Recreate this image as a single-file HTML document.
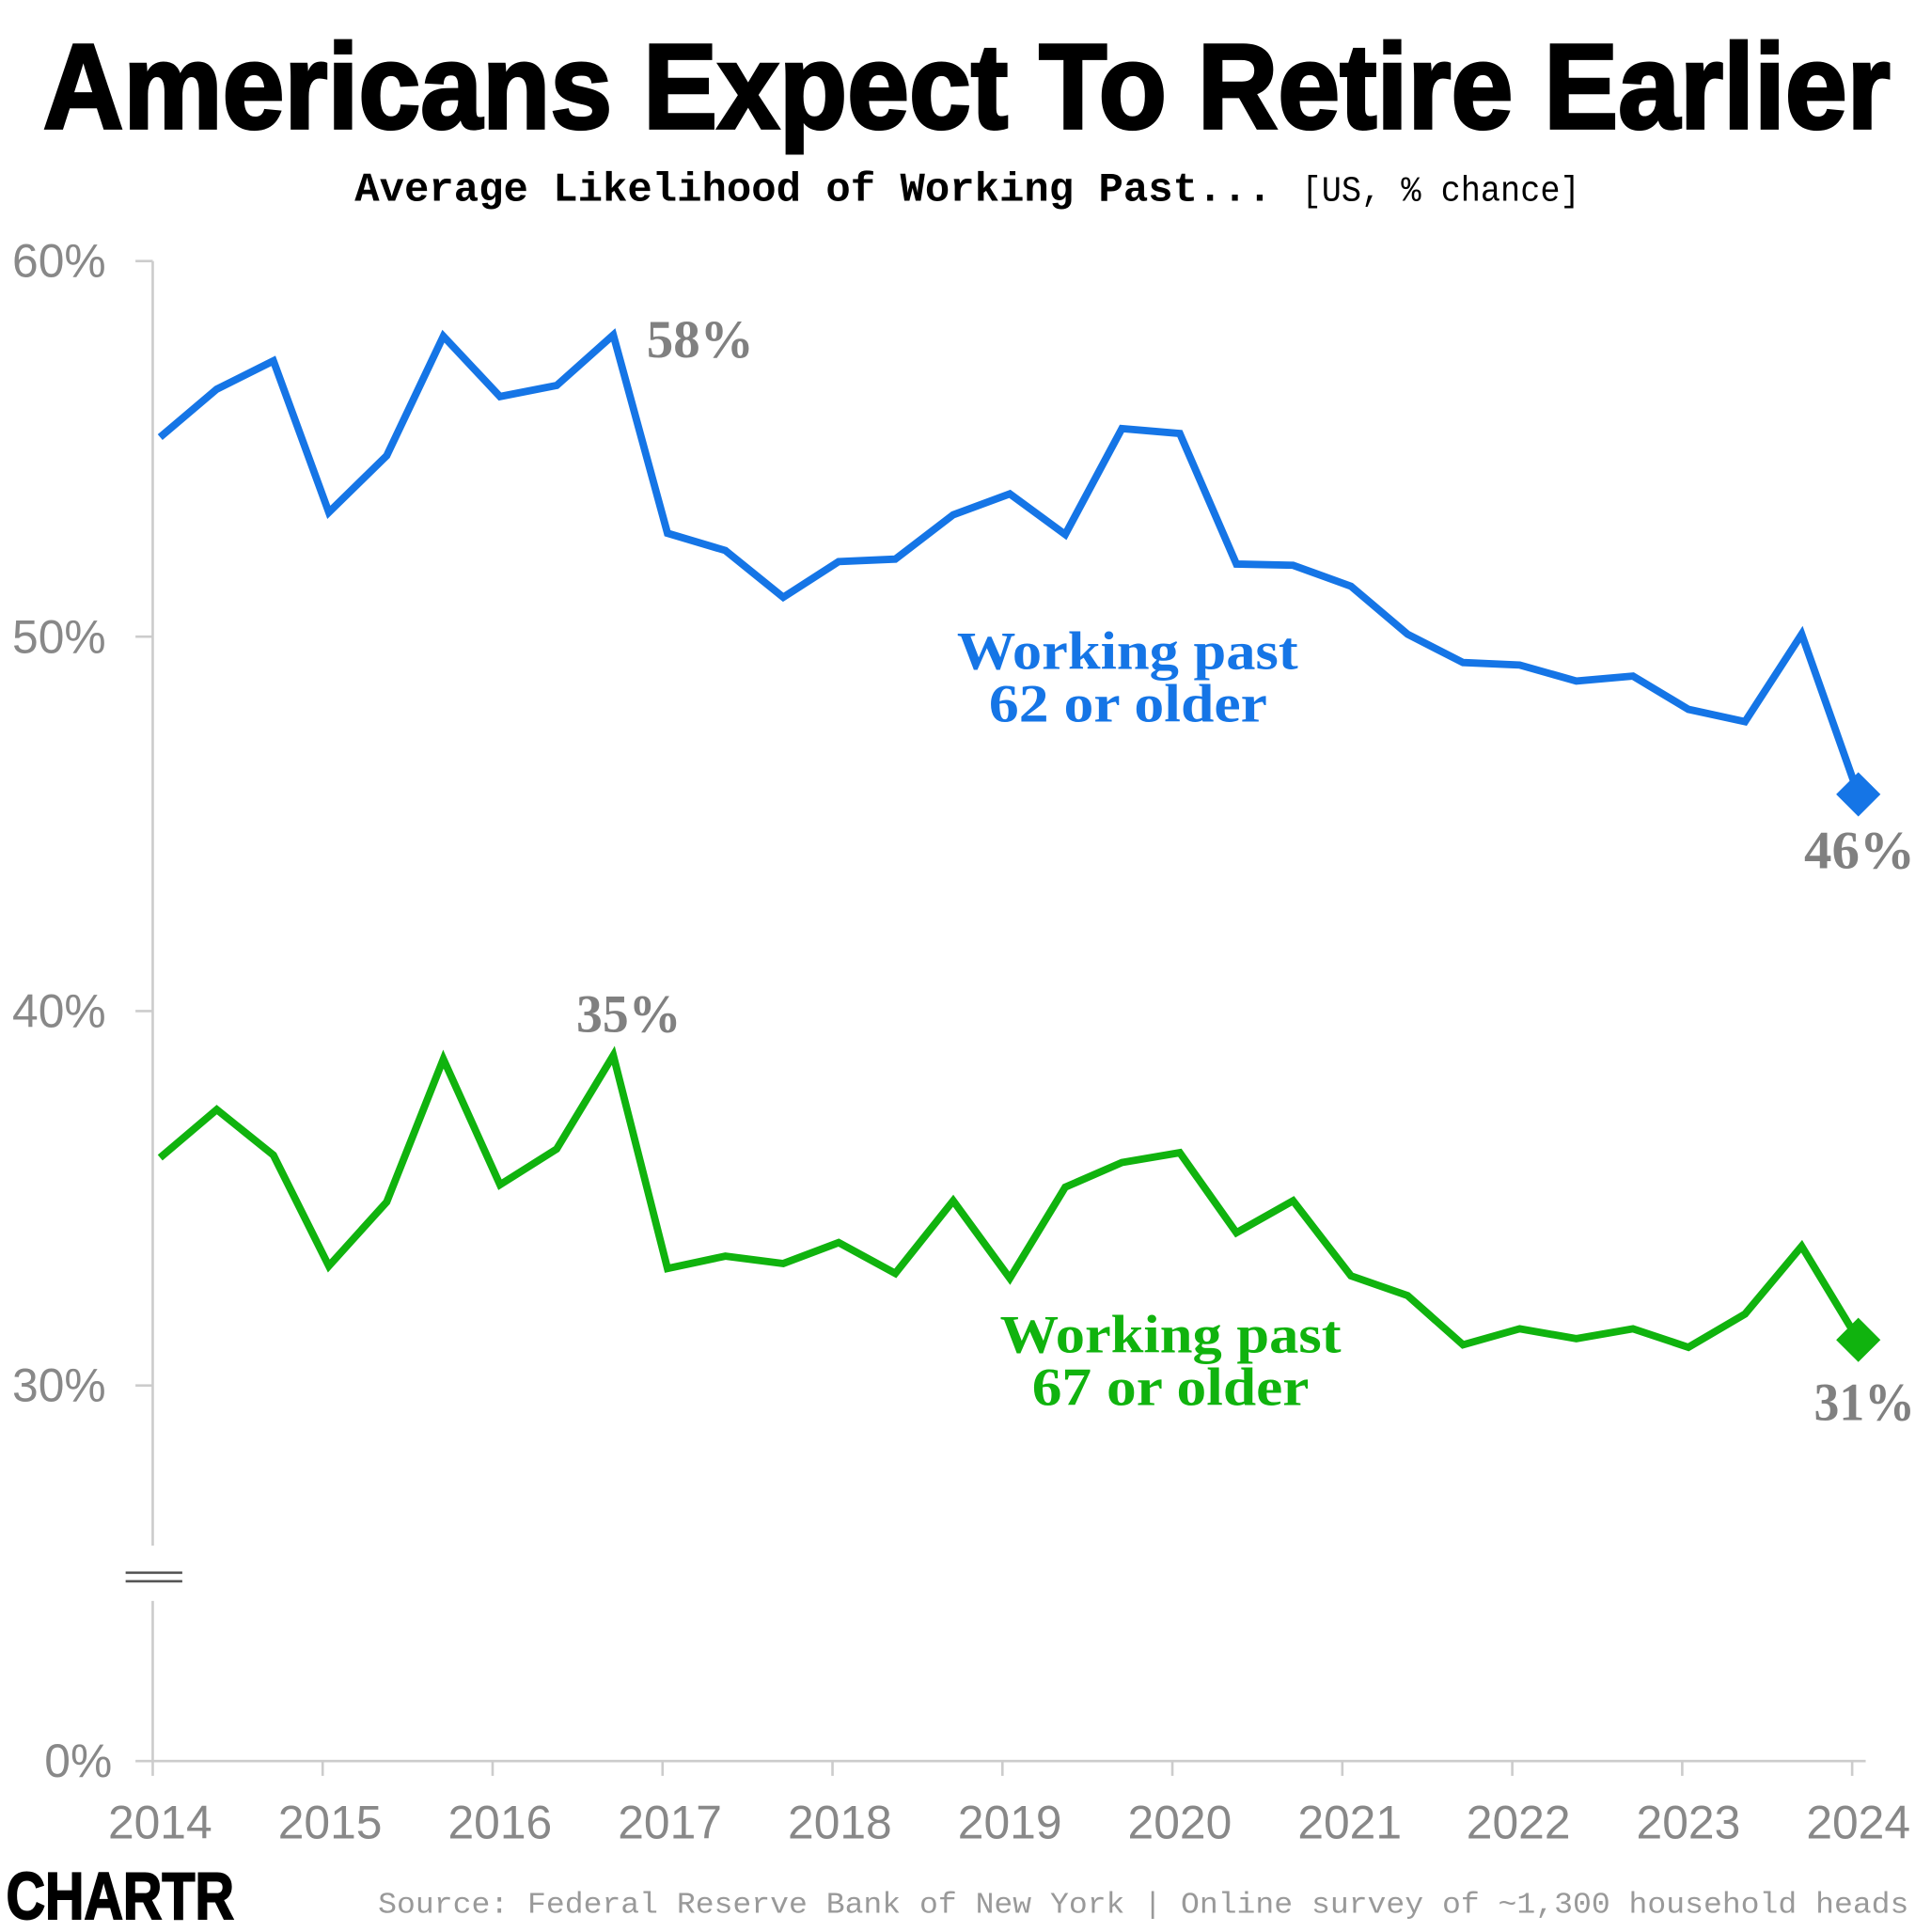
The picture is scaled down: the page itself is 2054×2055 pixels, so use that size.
<!DOCTYPE html>
<html><head><meta charset="utf-8"><style>
html,body{margin:0;padding:0;background:#fff;}
svg{display:block;}
</style></head><body>
<svg width="2054" height="2055" viewBox="0 0 1568 1568.8" xmlns="http://www.w3.org/2000/svg">
<rect width="1568" height="1569" fill="#fff"/>
<text x="35" y="104" font-family="Liberation Sans Narrow, Liberation Sans, sans-serif" font-weight="bold" font-size="98" textLength="1500" lengthAdjust="spacingAndGlyphs" fill="#000" stroke="#000" stroke-width="2.5">Americans Expect To Retire Earlier</text>
<text x="288" y="163" font-family="Liberation Mono, monospace" font-weight="bold" font-size="33" textLength="745" lengthAdjust="spacingAndGlyphs" fill="#000">Average Likelihood of Working Past...</text>
<text x="1057" y="163" font-family="Liberation Mono, monospace" font-size="29" textLength="226" lengthAdjust="spacingAndGlyphs" fill="#000">[US, % chance]</text>
<g stroke="#ccc" stroke-width="2">
<line x1="124" y1="212" x2="124" y2="1255"/>
<line x1="124" y1="1300" x2="124" y2="1430"/>
<line x1="110" y1="212" x2="124" y2="212"/>
<line x1="110" y1="517" x2="124" y2="517"/>
<line x1="110" y1="821" x2="124" y2="821"/>
<line x1="110" y1="1125" x2="124" y2="1125"/>
<line x1="110" y1="1430" x2="1515" y2="1430"/>
<line x1="102" y1="1277" x2="148" y2="1277" stroke="#555"/>
<line x1="102" y1="1284" x2="148" y2="1284" stroke="#555"/>
</g>
<g stroke="#ccc" stroke-width="2">
<line x1="124" y1="1430" x2="124" y2="1442"/><line x1="262" y1="1430" x2="262" y2="1442"/><line x1="400" y1="1430" x2="400" y2="1442"/><line x1="538" y1="1430" x2="538" y2="1442"/><line x1="676" y1="1430" x2="676" y2="1442"/><line x1="814" y1="1430" x2="814" y2="1442"/><line x1="952" y1="1430" x2="952" y2="1442"/><line x1="1090" y1="1430" x2="1090" y2="1442"/><line x1="1228" y1="1430" x2="1228" y2="1442"/><line x1="1366" y1="1430" x2="1366" y2="1442"/><line x1="1504" y1="1430" x2="1504" y2="1442"/>
</g>
<g font-family="Liberation Sans, sans-serif" font-size="38" fill="#888" text-anchor="end">
<text x="86" y="225">60%</text><text x="86" y="530">50%</text><text x="86" y="834">40%</text><text x="86" y="1138">30%</text><text x="91" y="1443">0%</text>
</g>
<g font-family="Liberation Sans, sans-serif" font-size="38" fill="#888" text-anchor="middle">
<text x="130" y="1493">2014</text><text x="268" y="1493">2015</text><text x="406" y="1493">2016</text><text x="544" y="1493">2017</text><text x="682" y="1493">2018</text><text x="820" y="1493">2019</text><text x="958" y="1493">2020</text><text x="1096" y="1493">2021</text><text x="1233" y="1493">2022</text><text x="1371" y="1493">2023</text><text x="1509" y="1493">2024</text>
</g>
<polyline fill="none" stroke="#1575e6" stroke-width="6" stroke-linejoin="miter" points="130,355 176,316 222,293 267,416 314,370 360,273 406,322 452,313 498,272 542,433 589,447 636,485 681,456 727,454 774,418 820,401 865,434 911,348 958,352 1004,458 1050,459 1097,476 1143,515 1188,538 1234,540 1280,553 1326,549 1371,576 1417,586 1463,515 1509,645"/>
<polyline fill="none" stroke="#10b30e" stroke-width="6" stroke-linejoin="miter" points="130,940 176,901 222,938 267,1028 314,976 360,860 406,962 452,933 498,857 542,1030 589,1020 636,1026 681,1009 727,1034 774,975 820,1038 865,964 911,944 958,936 1004,1001 1050,975 1097,1036 1143,1052 1188,1092 1234,1079 1280,1087 1326,1079 1371,1094 1417,1067 1463,1012 1509,1088"/>
<polygon points="1509,627 1527,645 1509,663 1491,645" fill="#1575e6"/>
<polygon points="1509,1070 1527,1088 1509,1106 1491,1088" fill="#10b30e"/>
<g font-family="Liberation Serif, serif" font-weight="bold" font-size="44" fill="#808080">
<text x="525" y="290" textLength="87" lengthAdjust="spacingAndGlyphs">58%</text><text x="468" y="838" textLength="85" lengthAdjust="spacingAndGlyphs">35%</text><text x="1465" y="705" textLength="90" lengthAdjust="spacingAndGlyphs">46%</text><text x="1473" y="1153" textLength="82" lengthAdjust="spacingAndGlyphs">31%</text>
</g>
<g font-family="Liberation Serif, serif" font-weight="bold" font-size="44">
<text x="777" y="543" fill="#1575e6" textLength="277" lengthAdjust="spacingAndGlyphs">Working past</text><text x="803" y="586" fill="#1575e6" textLength="226" lengthAdjust="spacingAndGlyphs">62 or older</text>
<text x="812" y="1098" fill="#10b30e" textLength="277" lengthAdjust="spacingAndGlyphs">Working past</text><text x="838" y="1141" fill="#10b30e" textLength="225" lengthAdjust="spacingAndGlyphs">67 or older</text>
</g>
<text x="5" y="1558" font-family="Liberation Sans Narrow, Liberation Sans, sans-serif" font-weight="bold" font-size="54" textLength="185" lengthAdjust="spacingAndGlyphs" fill="#000" stroke="#000" stroke-width="1.5">CHARTR</text>
<text x="307" y="1553" font-family="Liberation Mono, monospace" font-size="24" textLength="1243" lengthAdjust="spacingAndGlyphs" fill="#999">Source: Federal Reserve Bank of New York | Online survey of ~1,300 household heads</text>
</svg>
</body></html>
